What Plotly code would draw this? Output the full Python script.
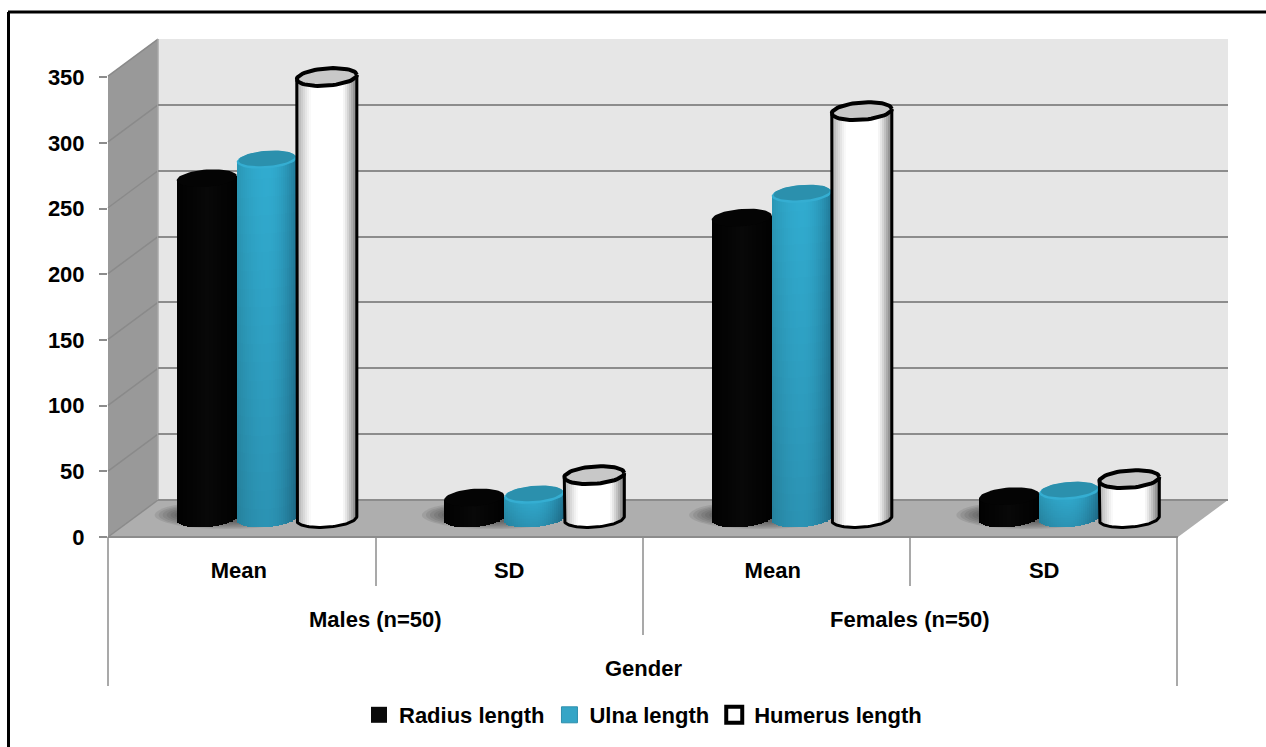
import math
import plotly.graph_objects as go

# ---- data ----
CATEGORIES = ["Mean", "SD", "Mean", "SD"]
GROUPS = ["Males (n=50)", "Females (n=50)"]
AXIS_TITLE = "Gender"
RADIUS = [259, 16, 229, 17]
ULNA = [273, 18, 247, 21]
HUMERUS = [336, 33, 310, 30]
Y_TICKS = [0, 50, 100, 150, 200, 250, 300, 350]

W, H = 1266, 747
FONT = "Liberation Sans"
PX_CAT = 267.25      # px per category
PX_UNIT = 1.314      # px per value unit on the front axis
PX_BACK = 1.317      # px per value unit on the back wall
DX = 25 / PX_CAT     # half the 3-D depth in category units
DY = 14.05           # half the 3-D depth in value units
BAR_W = 60 / PX_CAT
CAP = 6.6            # cap semi-minor axis in value units
SKEW = 1.6           # slight perspective tilt of the ellipses, value units


def px(x):
    return x / W


def py(y):
    return 1 - y / H


def mix(a, b, f):
    return tuple(a[i] + (b[i] - a[i]) * f for i in range(3))


def rgb(c):
    return "rgb(%d,%d,%d)" % tuple(round(v) for v in c)


def shade_black(t, level):
    g = 1 + 7 * (1 - abs(t))
    return (g, g, g)


def shade_blue(t, level):
    edge_l, mid, edge_r = (42, 150, 180), (49, 172, 208), (32, 118, 148)
    if t < 0:
        c = mix(mid, edge_l, min(1, (-t) ** 2))
    else:
        c = mix(mid, edge_r, min(1, t ** 2))
    return mix(c, (c[0] * .88, c[1] * .85, c[2] * .86), level)


def shade_white(t, level):
    a = abs(t)
    if a < 0.5:
        return (255, 255, 255)
    end = (170, 170, 170) if t < 0 else (115, 115, 115)
    return mix((255, 255, 255), end, ((a - .5) / .5) ** 1.3)


def ell(xc, yc, rx, ry, a0=0, a1=360, n=60):
    xs, ys = [], []
    for i in range(n + 1):
        a = math.radians(a0 + (a1 - a0) * i / n)
        xs.append(xc + rx * math.cos(a))
        ys.append(yc + ry * math.sin(a) + SKEW * math.cos(a))
    return xs, ys


def cyl_bars(values, offset, shade, levels):
    xs, hs, bases, widths, cols = [], [], [], [], []
    n = 30
    for cat, v in enumerate(values):
        xc = cat + DX + offset * BAR_W
        for s in range(n):
            t = -1 + 2 * (s + .5) / n
            b = DY - CAP * math.sqrt(max(0, 1 - t * t)) + SKEW * t
            top = DY + v + SKEW * t
            for l in range(levels):
                lo = b + (top - b) * l / levels
                hi = b + (top - b) * (l + 1) / levels
                xs.append(xc + t * BAR_W / 2)
                bases.append(lo)
                hs.append(hi - lo + (0.4 if l < levels - 1 else 0))
                widths.append(BAR_W / n * 1.15)
                cols.append(rgb(shade(t, 1 - (l + .5) / levels)))
    return go.Bar(x=xs, y=hs, base=bases, width=widths, marker=dict(color=cols, line=dict(width=0)),
                  xaxis="x2", yaxis="y2", showlegend=False, hoverinfo="skip")


fig = go.Figure()

# invisible trace keeps the back-wall subplot alive
fig.add_trace(go.Scatter(x=[0], y=[0], xaxis="x", yaxis="y", mode="markers", marker=dict(opacity=0),
                         showlegend=False, hoverinfo="skip"))

SERIES = [
    ("Radius length", RADIUS, -1, shade_black, 1),
    ("Ulna length", ULNA, 0, shade_blue, 20),
    ("Humerus length", HUMERUS, 1, shade_white, 1),
]
for name, vals, off, shade, levels in SERIES:
    fig.add_trace(cyl_bars(vals, off, shade, levels))


def closed(xs, ys, color, line_color=None, lw=0):
    return go.Scatter(x=xs, y=ys, xaxis="x2", yaxis="y2", mode="lines", fill="toself", fillcolor=color,
                      line=dict(color=line_color or color, width=lw), showlegend=False, hoverinfo="skip")


rx = BAR_W / 2
for cat in range(4):
    # black cap
    x0 = cat + DX - BAR_W
    xs, ys = ell(x0, DY + RADIUS[cat], rx, CAP)
    fig.add_trace(closed(xs, ys, "#040404"))
    # blue cap: bright rim, darker inner top
    x1 = cat + DX
    yv = DY + ULNA[cat]
    xs, ys = ell(x1, yv, rx, CAP)
    fig.add_trace(closed(xs, ys, "#35AED2"))
    xs, ys = ell(x1, yv + 1.1, rx * .94, CAP * .88)
    fig.add_trace(closed(xs, ys, "#2B90AD"))
    # white body outline and cap
    x2 = cat + DX + BAR_W
    yv = DY + HUMERUS[cat]
    ax, ay = ell(x2, DY, rx, CAP, 180, 360)
    fig.add_trace(go.Scatter(x=[x2 - rx] + ax + [x2 + rx], y=[yv - SKEW] + ay + [yv + SKEW], xaxis="x2", yaxis="y2",
                             mode="lines", line=dict(color="#000000", width=3), showlegend=False,
                             hoverinfo="skip"))
    xs, ys = ell(x2, yv, rx, CAP)
    fig.add_trace(closed(xs, ys, "#C8C8C8", "#000000", 4))

# legend entries
LEG = [("Radius length", "#0A0A0A", "#0A0A0A", 0),
       ("Ulna length", "#35A5C6", "#2E8FAD", 1),
       ("Humerus length", "#FFFFFF", "#000000", 4)]
for name, col, lc, lw in LEG:
    fig.add_trace(go.Scatter(x=[None], y=[None], xaxis="x2", yaxis="y2", mode="markers", name=name,
                             marker=dict(symbol="square", size=16, color=col, line=dict(color=lc, width=lw))))

GRID = "#8C8C8C"
shapes = []


def poly(points, fill):
    d = "M" + " L".join("%.5f,%.5f" % (px(a), py(b)) for a, b in points) + " Z"
    shapes.append(dict(type="path", path=d, xref="paper", yref="paper", fillcolor=fill,
                       line=dict(width=0), layer="below"))


def seg(x0, y0, x1, y1, color=GRID, width=2, layer="below"):
    shapes.append(dict(type="line", xref="paper", yref="paper", x0=px(x0), y0=py(y0), x1=px(x1), y1=py(y1),
                       line=dict(color=color, width=width), layer=layer))


# walls and floor
poly([(158, 39), (1228, 39), (1228, 500), (158, 500)], "#E6E6E6")
poly([(108, 76), (158, 39), (158, 500), (108, 537)], "#999999")
poly([(108, 537), (158, 500), (1228, 500), (1178, 537)], "#AEAEAE")

# soft shadows on the floor, mostly to the left of each group
for cat in range(4):
    cx = 108 + PX_CAT * (cat + .5) + 25 - 40
    for k in range(7):
        hw = 72 - k * 4
        hh = 14 - k * 1.2
        shapes.append(dict(type="circle", xref="paper", yref="paper", x0=px(cx - hw), x1=px(cx + hw),
                           y0=py(515 + hh), y1=py(515 - hh), fillcolor="rgba(50,50,50,0.11)",
                           line=dict(width=0), layer="below"))

# left wall diagonals
for i in range(len(Y_TICKS)):
    yy = 537 - Y_TICKS[i] * PX_BACK
    seg(108, yy, 158, yy - 37, "#8A8A8A", 1.5)
seg(158, 39, 158, 500, "#A8A8A8", 1.5)

# front axis and multi-level category dividers
seg(108, 537, 1178, 537)
seg(108, 537, 108, 686, "#8C8C8C", 1.5)
seg(376, 537, 376, 586, "#8C8C8C", 1.5)
seg(643, 537, 643, 635, "#8C8C8C", 1.5)
seg(910, 537, 910, 586, "#8C8C8C", 1.5)
seg(1177, 537, 1177, 686, "#8C8C8C", 1.5)

# outer frame, open on the right and bottom of the crop
seg(8, 12, 1266, 12, "#000000", 3)
seg(8.5, 12, 8.5, 747, "#000000", 3)

label = dict(family=FONT, size=22, color="#000000", weight="bold")
ann = [
    dict(text=GROUPS[0], x=px(375.5), y=py(619), xref="paper", yref="paper", showarrow=False, font=label,
         yanchor="middle", xanchor="center"),
    dict(text=GROUPS[1], x=px(910), y=py(619), xref="paper", yref="paper", showarrow=False, font=label,
         yanchor="middle", xanchor="center"),
    dict(text=AXIS_TITLE, x=px(643), y=py(668), xref="paper", yref="paper", showarrow=False, font=label,
         yanchor="middle", xanchor="center"),
]

fig.update_layout(
    width=W, height=H, margin=dict(l=0, r=0, t=0, b=0, autoexpand=False), paper_bgcolor="#FFFFFF",
    plot_bgcolor="rgba(0,0,0,0)",
    barmode="overlay", bargap=0, shapes=shapes, annotations=ann, hovermode=False,
    font=dict(family=FONT),
    # back wall grid
    xaxis=dict(domain=[px(158), px(1228)], range=[0, 1], showgrid=False, zeroline=False, showticklabels=False,
               ticks="", anchor="y"),
    yaxis=dict(domain=[py(537), py(39)], range=[(500 - 537) / PX_BACK, (500 - 39) / PX_BACK], tickvals=Y_TICKS,
               showgrid=True, gridcolor=GRID, gridwidth=2, zeroline=False, showticklabels=False, ticks="",
               anchor="x"),
    # front plane, carrying the marks
    xaxis2=dict(domain=[px(108), px(1228)], range=[-0.5, 3.5 + 50 / PX_CAT], tickvals=[-0.011, 1, 1.985, 3],
                ticktext=CATEGORIES, showgrid=False, zeroline=False, ticks="", showline=False,
                tickfont=label, ticklabelstandoff=18, anchor="y2"),
    yaxis2=dict(domain=[py(537), py(39)], range=[0, (537 - 39) / PX_UNIT], tickvals=Y_TICKS, showgrid=False,
                zeroline=False, ticks="outside", ticklen=8, tickwidth=2, tickcolor=GRID, showline=False,
                tickfont=label, ticklabelstandoff=10, anchor="x2"),
    legend=dict(orientation="h", x=px(643), xanchor="center", y=py(715), yanchor="middle",
                font=dict(family=FONT, size=22, color="#000000", weight="bold"), itemsizing="trace",
                bgcolor="rgba(0,0,0,0)"),
)

fig.write_html("out.html", config=dict(displayModeBar=False),
               post_script="document.body.style.margin='0';document.body.style.overflow='hidden';")
